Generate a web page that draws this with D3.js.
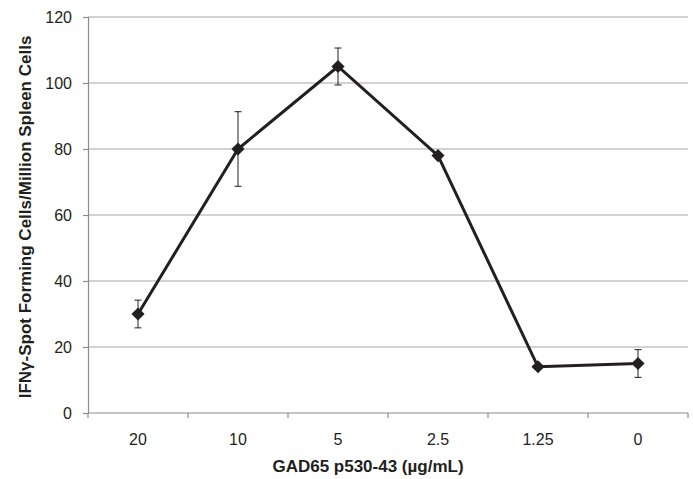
<!DOCTYPE html>
<html>
<head>
<meta charset="utf-8">
<script src="https://cdn.jsdelivr.net/npm/d3@7"></script>
<style>
  body { margin: 0; background: #fff; }
  text { font-family: "Liberation Sans", Arial, sans-serif; fill: #231f20; }
</style>
</head>
<body>
<div id="chart"></div>
<script>
// data
var categories = ["20", "10", "5", "2.5", "1.25", "0"];
var values = [30, 80, 105, 78, 14, 15];
var errors = [4.2, 11.3, 5.6, 0, 0, 4.2];
var yTicks = [0, 20, 40, 60, 80, 100, 120];

var margin = { top: 17, right: 5, bottom: 66, left: 88 },
  width = 693 - margin.left - margin.right,
  height = 479 - margin.top - margin.bottom;

var svg = d3
  .select("#chart")
  .append("svg")
  .attr("width", 693)
  .attr("height", 479)
  .append("g")
  .attr("transform", "translate(" + margin.left + "," + margin.top + ")");

var x = d3.scaleBand().domain(categories).range([0, 600]);
var y = d3.scaleLinear().domain([0, 120]).range([height, 0]);

var pts = categories.map((c, i) => ({ cat: c, v: values[i], e: errors[i] }));

// gridlines
svg
  .selectAll(".grid")
  .data(yTicks.filter((t) => t > 0))
  .enter()
  .append("line")
  .attr("x1", 0)
  .attr("x2", 600)
  .attr("y1", (d) => y(d))
  .attr("y2", (d) => y(d))
  .attr("stroke", "#a6a6a6")
  .attr("stroke-width", 1.2);

// y axis
var yAxis = svg
  .append("g")
  .call(d3.axisLeft(y).tickValues(yTicks).tickSize(5).tickPadding(11));
yAxis.select(".domain").attr("stroke", "#8c8c8c").attr("stroke-width", 1.2);
yAxis.selectAll(".tick line").attr("stroke", "#8c8c8c").attr("stroke-width", 1.2);
yAxis.selectAll(".tick text").style("font-size", "16px").attr("fill", "#231f20");

// x axis: ticks on band edges
var xAxis = svg.append("g").attr("transform", "translate(0," + height + ")");
xAxis
  .append("line")
  .attr("x1", 0)
  .attr("x2", 600)
  .attr("stroke", "#8c8c8c")
  .attr("stroke-width", 1.2);
xAxis
  .selectAll(".xt")
  .data(categories.concat(["end"]))
  .enter()
  .append("line")
  .attr("x1", (d, i) => i * x.bandwidth())
  .attr("x2", (d, i) => i * x.bandwidth())
  .attr("y1", 0)
  .attr("y2", 5)
  .attr("stroke", "#8c8c8c")
  .attr("stroke-width", 1.2);
xAxis
  .selectAll(".xl")
  .data(categories)
  .enter()
  .append("text")
  .attr("x", (d) => x(d) + x.bandwidth() / 2)
  .attr("y", 32)
  .attr("text-anchor", "middle")
  .style("font-size", "16px")
  .text((d) => d);

// error bars
var eb = svg.selectAll(".err").data(pts.filter((d) => d.e > 0)).enter().append("g");
eb.append("line")
  .attr("x1", (d) => x(d.cat) + x.bandwidth() / 2)
  .attr("x2", (d) => x(d.cat) + x.bandwidth() / 2)
  .attr("y1", (d) => y(d.v + d.e))
  .attr("y2", (d) => y(d.v - d.e))
  .attr("stroke", "#231f20")
  .attr("stroke-width", 1);
[1, -1].forEach(function (s) {
  eb.append("line")
    .attr("x1", (d) => x(d.cat) + x.bandwidth() / 2 - 3.5)
    .attr("x2", (d) => x(d.cat) + x.bandwidth() / 2 + 3.5)
    .attr("y1", (d) => y(d.v + s * d.e))
    .attr("y2", (d) => y(d.v + s * d.e))
    .attr("stroke", "#231f20")
    .attr("stroke-width", 1);
});

// line
var line = d3
  .line()
  .x((d) => x(d.cat) + x.bandwidth() / 2)
  .y((d) => y(d.v));
svg
  .append("path")
  .datum(pts)
  .attr("d", line)
  .attr("fill", "none")
  .attr("stroke", "#231f20")
  .attr("stroke-width", 3);

// diamond markers
svg
  .selectAll(".pt")
  .data(pts)
  .enter()
  .append("path")
  .attr("d", d3.symbol().type(d3.symbolDiamond2).size(110))
  .attr("transform", (d) => "translate(" + (x(d.cat) + x.bandwidth() / 2) + "," + y(d.v) + ")")
  .attr("fill", "#231f20");

// axis titles
svg
  .append("text")
  .attr("x", 280)
  .attr("y", height + 59)
  .attr("text-anchor", "middle")
  .style("font-size", "17px")
  .style("font-weight", "bold")
  .text("GAD65 p530-43 (µg/mL)");

svg
  .append("text")
  .attr("transform", "rotate(-90)")
  .attr("x", -200)
  .attr("y", -57)
  .attr("text-anchor", "middle")
  .style("font-size", "17px")
  .style("font-weight", "bold")
  .text("IFNγ-Spot Forming Cells/Million Spleen Cells");
</script>
</body>
</html>
